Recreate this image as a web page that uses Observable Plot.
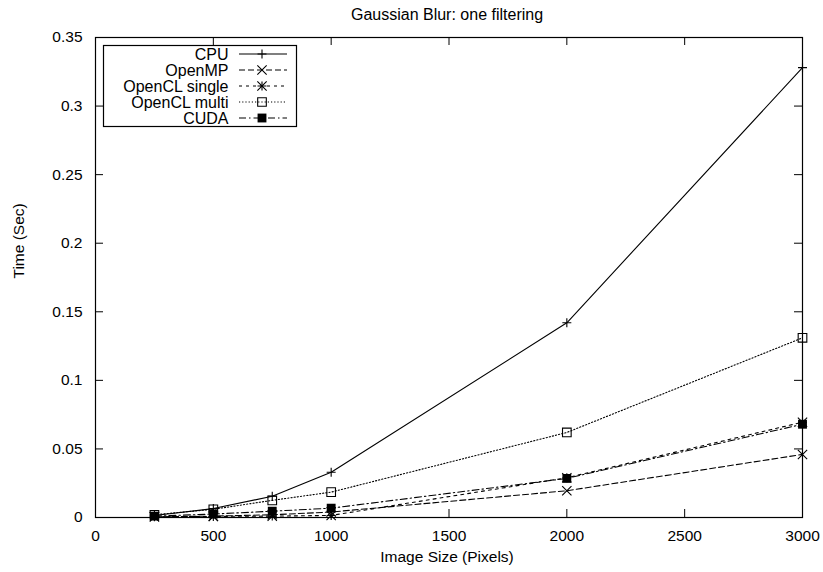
<!DOCTYPE html>
<html>
<head>
<meta charset="utf-8">
<script src="https://cdn.jsdelivr.net/npm/d3@7"></script>
<script src="https://cdn.jsdelivr.net/npm/@observablehq/plot@0.6"></script>
<style>
  html, body { margin: 0; padding: 0; background: #fff; }
  #chart svg { display: block; }
</style>
</head>
<body>
<div id="chart"></div>
<script>
// ---- data ----
const title = "Gaussian Blur: one filtering";
const xLabel = "Image Size (Pixels)";
const yLabel = "Time (Sec)";
const sizes = [250, 500, 750, 1000, 2000, 3000];
const seriesNames = ["CPU", "OpenMP", "OpenCL single", "OpenCL multi", "CUDA"];
const cpu          = [0.0015, 0.0065, 0.0155, 0.033, 0.142, 0.328];
const openmp       = [0.0005, 0.001, 0.002, 0.004, 0.0195, 0.046];
const openclSingle = [0.0005, 0.0008, 0.001, 0.0015, 0.029, 0.0695];
const openclMulti  = [0.002, 0.006, 0.0125, 0.0185, 0.062, 0.131];
const cuda         = [0.001, 0.0025, 0.0046, 0.0068, 0.0285, 0.068];
const xTicks = [0, 500, 1000, 1500, 2000, 2500, 3000];
const yTicks = [0, 0.05, 0.1, 0.15, 0.2, 0.25, 0.3, 0.35];

// ---- styles per series ----
const styles = {
  "CPU":           {dash: null,        symbols: [["plus", 3.0, "none"]]},
  "OpenMP":        {dash: "6,3",       symbols: [["times", 4.3, "none"]]},
  "OpenCL single": {dash: "3,4",       symbols: [["plus", 3.0, "none"], ["times", 4.3, "none"]]},
  "OpenCL multi":  {dash: "1.2,2",     symbols: [["square2", 5.5, "none"]]},
  "CUDA":          {dash: "7,3,1.5,3", symbols: [["square", 5.0, "black"]]}
};
const values = [cpu, openmp, openclSingle, openclMulti, cuda];
const rows = [];
seriesNames.forEach((name, i) => sizes.forEach((s, j) => rows.push({series: name, size: s, time: values[i][j]})));

const W = 823, H = 572;
const mL = 95, mR = 21, mT = 37, mB = 55;
const fw = W - mL - mR, fh = H - mT - mB;
const font = "'Liberation Sans', Arial, Helvetica, sans-serif";

const marks = [];
// inward ticks (mirrored)
marks.push(Plot.tickX(xTicks, {x: d => d, insetTop: fh - 8, stroke: "black"}));
marks.push(Plot.tickX(xTicks, {x: d => d, insetBottom: fh - 8, stroke: "black"}));
marks.push(Plot.tickY(yTicks, {y: d => d, insetRight: fw - 8, stroke: "black"}));
marks.push(Plot.tickY(yTicks, {y: d => d, insetLeft: fw - 8, stroke: "black"}));
marks.push(Plot.axisX(xTicks, {tickSize: 0, tickPadding: 12, fontSize: 15.5, label: null, tickFormat: d => String(d)}));
marks.push(Plot.axisY(yTicks, {tickSize: 0, tickPadding: 13, fontSize: 15.5, label: null, tickFormat: d => String(d)}));

seriesNames.forEach(name => {
  const st = styles[name];
  const data = rows.filter(r => r.series === name);
  marks.push(Plot.line(data, {x: "size", y: "time", stroke: "black", strokeWidth: 1.1, strokeDasharray: st.dash}));
  st.symbols.forEach(([sym, r, fill]) => {
    marks.push(Plot.dot(data, {x: "size", y: "time", symbol: sym, r, stroke: fill === "none" ? "black" : null, fill: fill === "none" ? null : fill, strokeWidth: 1.1}));
  });
});
marks.push(Plot.frame({stroke: "black", strokeWidth: 1.2}));

// titles / axis labels
marks.push(Plot.text([title], {frameAnchor: "top", dx: -2, dy: -23, fontSize: 16, lineAnchor: "middle"}));
marks.push(Plot.text([xLabel], {frameAnchor: "bottom", dx: -2, dy: 40, fontSize: 15.5, lineAnchor: "middle"}));
marks.push(Plot.text([yLabel], {frameAnchor: "left", dx: -76, dy: 1, rotate: -90, fontSize: 15.5, lineAnchor: "middle"}));

// legend box and labels
marks.push(Plot.frame({fill: "white", stroke: "black", strokeWidth: 1.2, insetLeft: 8, insetTop: 8, insetRight: 506, insetBottom: 391}));
seriesNames.forEach((name, i) => {
  marks.push(Plot.text([name], {frameAnchor: "top-left", dx: 228 - mL, dy: 54 - mT + 16 * i, textAnchor: "end", lineAnchor: "middle", fontSize: 16}));
});

const chart = Plot.plot({
  width: W, height: H,
  marginLeft: mL, marginRight: mR, marginTop: mT, marginBottom: mB,
  style: {fontFamily: font, fontSize: "15.5px", color: "black", background: "white"},
  x: {domain: [0, 3000]},
  y: {domain: [0, 0.35]},
  marks
});
document.getElementById("chart").appendChild(chart);

// legend samples: line segment + marker(s), on top of the legend box
const symbolMap = {plus: d3.symbolPlus, times: d3.symbolTimes, square2: d3.symbolSquare2, square: d3.symbolSquare};
const lg = d3.select(chart).append("g");
seriesNames.forEach((name, i) => {
  const y = 54 + 16 * i;
  lg.append("line")
    .attr("x1", 239).attr("x2", 287)
    .attr("y1", y).attr("y2", y)
    .attr("stroke", "black").attr("stroke-width", 1.1)
    .attr("stroke-dasharray", styles[name].dash);
  styles[name].symbols.forEach(([sym, r, fill]) => {
    lg.append("path")
      .attr("transform", `translate(262,${y})`)
      .attr("d", d3.symbol(symbolMap[sym], Math.PI * r * r)())
      .attr("fill", fill === "none" ? "none" : fill)
      .attr("stroke", fill === "none" ? "black" : "none")
      .attr("stroke-width", 1.1);
  });
});
</script>
</body>
</html>
